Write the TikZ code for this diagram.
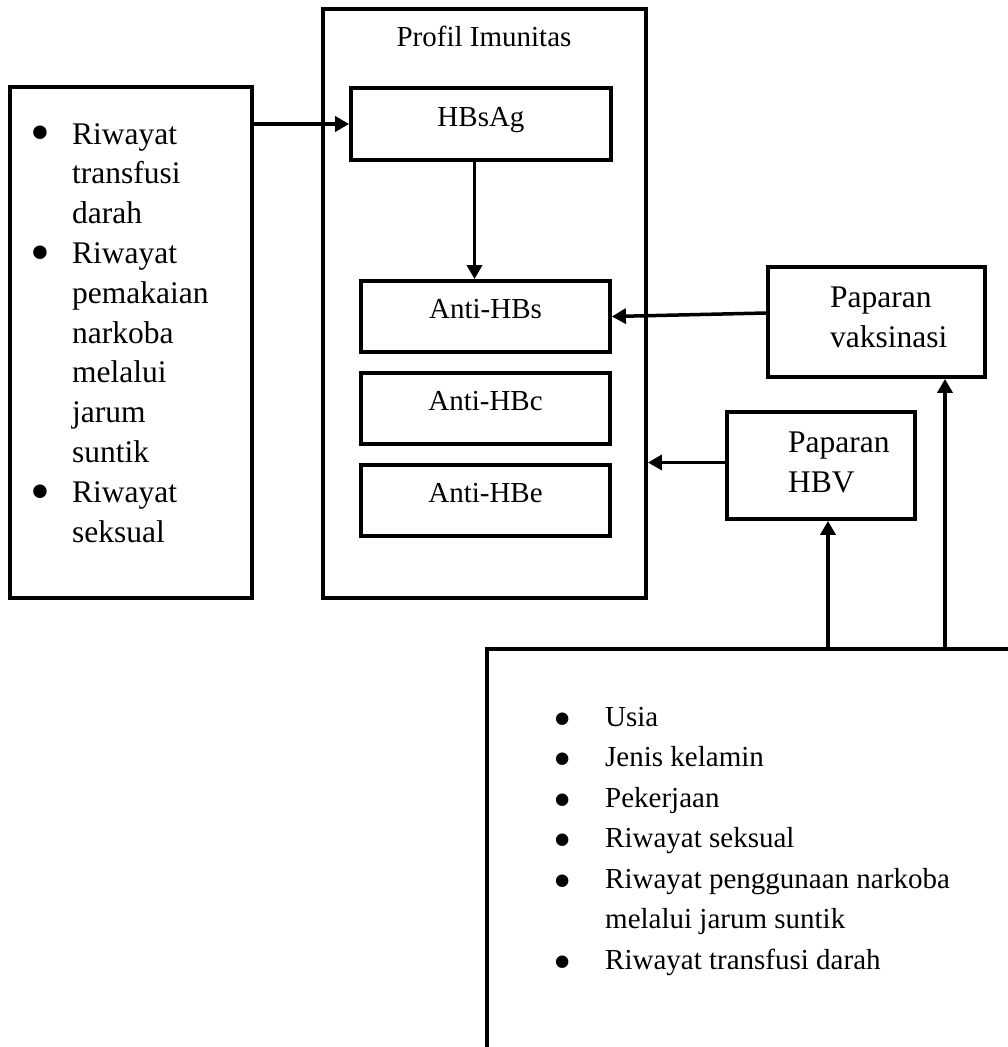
\documentclass[tikz,border=0pt]{standalone}
\usepackage{fontspec}
\setmainfont{Liberation Serif}
\usetikzlibrary{arrows.meta}
\newcommand\butir[1]{\smash{\raisebox{#1}{\scalebox{1.8}{\textbullet}}}}
\begin{document}
\begin{tikzpicture}[x=1pt,y=-1pt]
        \tikzset{box/.style = {shape=rectangle,draw,line width=3.8pt,inner sep=0pt}}
        \tikzset{txt/.style = {inner sep=0pt,align=left}}
        \tikzset{arr/.style = {line width=3.5pt,-{Triangle[length=14pt,width=15pt]}}}
        \tikzset{kecil/.style = {font=\fontsize{29}{40.5}\selectfont}}
        \tikzset{besar/.style = {font=\fontsize{31.5}{39.8}\selectfont}}
        \tikzset{antibox/.style = {box,kecil,minimum width=249pt,minimum height=71pt,text height=20pt,text depth=16pt}}
        \useasboundingbox (0,0) rectangle (1008,1047);
        \clip (0,0) rectangle (1008,1047);
        % box on the left
        \node[box,minimum width=242pt,minimum height=511pt] (riwayat) at (131,342.5) {};
        \node[txt,besar,anchor=base west] (daftarkiri) at (72,542) {\llap{\butir{-0.25em}\hspace{22pt}}Riwayat\\transfusi\\darah\\\llap{\butir{-0.25em}\hspace{22pt}}Riwayat\\pemakaian\\narkoba\\melalui\\jarum\\suntik\\\llap{\butir{-0.25em}\hspace{22pt}}Riwayat\\seksual};
        % profil imunitas
        \node[box,minimum width=323pt,minimum height=589pt] (profil) at (484.5,303.5) {};
        \node[txt,kecil,anchor=base] (judul) at (484,46) {Profil Imunitas};
        \node[box,kecil,minimum width=260pt,minimum height=72pt,text height=20pt,text depth=16pt] (hbsag) at (481,124) {HBsAg};
        \node[antibox] (antihbs) at (485.5,316.5) {Anti-HBs};
        \node[antibox] (antihbc) at (485.5,408.5) {Anti-HBc};
        \node[antibox] (antihbe) at (485.5,500.5) {Anti-HBe};
        % paparan
        \node[box,minimum width=217pt,minimum height=110pt] (vaksin) at (876.5,322) {};
        \node[txt,besar,anchor=base west] (tvaksin) at (830,347) {Paparan\\vaksinasi};
        \node[box,minimum width=188pt,minimum height=107pt] (hbv) at (821,465.5) {};
        \node[txt,besar,anchor=base west] (thbv) at (788,492) {Paparan\\HBV};
        % box at the bottom
        \node[box,minimum width=560pt,minimum height=440pt] (faktor) at (767,869) {};
        \node[txt,kecil,anchor=base west] (daftarbawah) at (605,969) {\llap{\butir{-0.36em}\hspace{33pt}}Usia\\\llap{\butir{-0.36em}\hspace{33pt}}Jenis kelamin\\\llap{\butir{-0.36em}\hspace{33pt}}Pekerjaan\\\llap{\butir{-0.36em}\hspace{33pt}}Riwayat seksual\\\llap{\butir{-0.36em}\hspace{33pt}}Riwayat penggunaan narkoba\\melalui jarum suntik\\\llap{\butir{-0.36em}\hspace{33pt}}Riwayat transfusi darah};
        % arrows
        \coordinate (k0) at ([xshift=-6.5pt]hbsag.south);
        \coordinate (k1) at ([yshift=9pt]vaksin.west);
        \coordinate (k2) at ([yshift=3pt]hbv.west);
        \coordinate (k3) at ([xshift=7pt]hbv.south);
        \coordinate (k4) at ([xshift=68.5pt]vaksin.south);
        \draw[arr] (riwayat.east |- hbsag.west) -- (hbsag.west);
        \draw[arr] (k0) -- (k0 |- antihbs.north);
        \draw[arr] (k1) -- (antihbs.east);
        \draw[arr] (k2) -- (k2 -| profil.east);
        \draw[arr] (k3 |- faktor.north) -- (k3);
        \draw[arr] (k4 |- faktor.north) -- (k4);
\end{tikzpicture}
\end{document}
